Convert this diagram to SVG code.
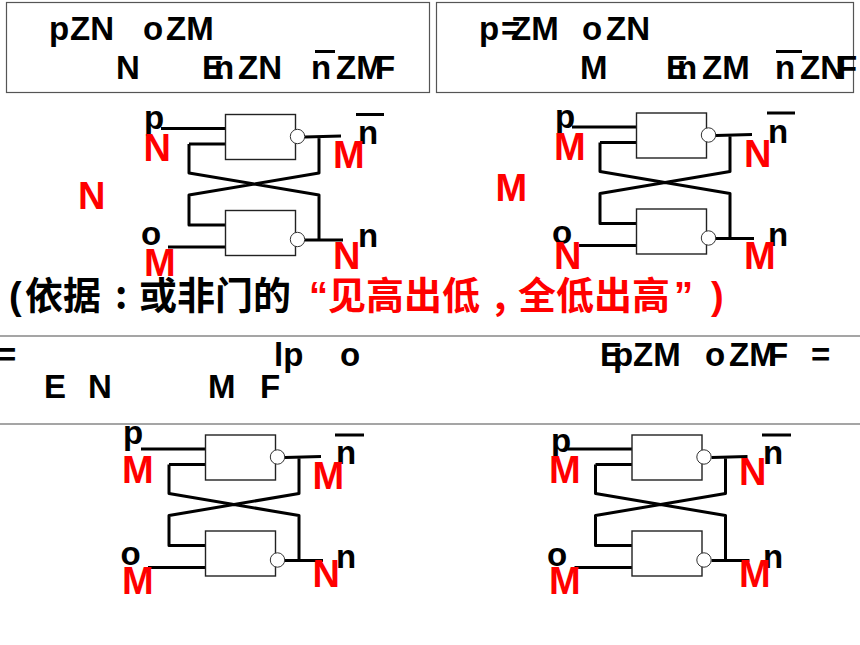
<svg xmlns="http://www.w3.org/2000/svg" xmlns:xlink="http://www.w3.org/1999/xlink" width="860" height="645" viewBox="0 0 860 645">
<style>
text{font-family:"Liberation Sans","Noto Sans CJK SC",sans-serif;font-weight:700}
.k{font-size:33px;fill:#000}
.r{font-size:38px;fill:#f00}
.cn{font-size:38px}
.pt{font-family:"Noto Sans CJK TC",sans-serif}
.box{fill:#fff;stroke:#555;stroke-width:1.2}
.sep{stroke:#888;stroke-width:1.6;fill:none}
.bar{stroke:#000;stroke-width:3;fill:none}
.gate rect{fill:#fff;stroke:#222;stroke-width:1.4}
.gate circle{fill:#fff;stroke:#333;stroke-width:1}
.wire{fill:none;stroke:#000;stroke-width:3;stroke-linejoin:round}
</style>
<defs>
<g id="gateTop" class="gate"><rect x="225.5" y="114.5" width="70" height="45"/><circle cx="297.5" cy="136.5" r="7.2"/></g>
<g id="gateBottom" class="gate"><rect x="225.5" y="210.5" width="70" height="45"/><circle cx="297.5" cy="239.5" r="7.2"/></g>
<path id="wires" d="M161 128.5H227M189 144H227M189 144V173L319 195V240M305 137L341 136M319 137V173L189 195V225H227M168 247H227M305 240H343"/>
</defs>
<rect class="box" x="6.5" y="2.5" width="423" height="90"/>
<rect class="box" x="436.5" y="2.5" width="417" height="90"/>
<path class="sep" d="M0 336H860M0 424H860"/>
<g id="connectors" class="wire">
<use xlink:href="#wires"/>
<use xlink:href="#wires" transform="translate(411 -1.5)"/>
<use xlink:href="#wires" transform="translate(-20 320.5)"/>
<use xlink:href="#wires" transform="translate(406.5 320.5)"/>
</g>
<g id="gate-a1"><use xlink:href="#gateTop"/></g>
<g id="gate-a2"><use xlink:href="#gateBottom"/></g>
<g id="gate-b1"><use xlink:href="#gateTop" transform="translate(411 -1.5)"/></g>
<g id="gate-b2"><use xlink:href="#gateBottom" transform="translate(411 -1.5)"/></g>
<g id="gate-c1"><use xlink:href="#gateTop" transform="translate(-20 320.5)"/></g>
<g id="gate-c2"><use xlink:href="#gateBottom" transform="translate(-20 320.5)"/></g>
<g id="gate-d1"><use xlink:href="#gateTop" transform="translate(406.5 320.5)"/></g>
<g id="gate-d2"><use xlink:href="#gateBottom" transform="translate(406.5 320.5)"/></g>
<g id="heading-a">
<text class="k" y="39.5"><tspan x="49">p</tspan><tspan x="70">ZN</tspan><tspan x="143">o</tspan><tspan x="166">ZM</tspan></text>
<text class="k" y="79"><tspan x="116">N</tspan><tspan x="202">E</tspan><tspan x="214">n</tspan><tspan x="238">ZN</tspan><tspan x="311">n</tspan><tspan x="336">ZM</tspan><tspan x="375">F</tspan></text>
<path class="bar" d="M315 51.5H335"/>
</g>
<g id="heading-b">
<text class="k" y="39.5"><tspan x="479">p</tspan><tspan x="501">=</tspan><tspan x="511">ZM</tspan><tspan x="582">o</tspan><tspan x="606">ZN</tspan></text>
<text class="k" y="79"><tspan x="580">M</tspan><tspan x="666">E</tspan><tspan x="677">n</tspan><tspan x="702">ZM</tspan><tspan x="775">n</tspan><tspan x="800">ZN</tspan><tspan x="837">F</tspan></text>
<path class="bar" d="M776 51.5H802"/>
</g>
<g id="heading-c">
<text class="k" y="365.5"><tspan x="-3">=</tspan><tspan x="274">lp</tspan><tspan x="340">o</tspan></text>
<text class="k" y="397.5"><tspan x="44">E</tspan><tspan x="88">N</tspan><tspan x="208">M</tspan><tspan x="260">F</tspan></text>
</g>
<g id="heading-d">
<text class="k" y="365.5"><tspan x="600">E</tspan><tspan x="613">p</tspan><tspan x="633">ZM</tspan><tspan x="705">o</tspan><tspan x="729">ZM</tspan><tspan x="768">F</tspan><tspan x="811">=</tspan></text>
</g>
<g id="labels-black">
<g transform="translate(0 0.6)">
<text class="k" x="144" y="128">p</text><text class="k" x="358" y="143">n</text><text class="k" x="141" y="244">o</text><text class="k" x="358" y="246">n</text>
<text class="k" x="555" y="127">p</text><text class="k" x="768" y="142">n</text><text class="k" x="552" y="243">o</text><text class="k" x="768" y="245">n</text>
<text class="k" x="123" y="443">p</text><text class="k" x="336" y="463">n</text><text class="k" x="120.5" y="564">o</text><text class="k" x="336" y="567">n</text>
<text class="k" x="551" y="451">p</text><text class="k" x="763" y="463">n</text><text class="k" x="547" y="565">o</text><text class="k" x="763" y="567">n</text>
</g>
<path class="bar" d="M356 114.5H384M767 113H795M335 435H364M762 435H791"/>
</g>
<g id="labels-red" transform="translate(0.5 1)">
<text class="r" x="143" y="160">N</text><text class="r" x="332.5" y="167">M</text><text class="r" x="77.5" y="208">N</text><text class="r" x="143.5" y="275">M</text><text class="r" x="332.5" y="268">N</text>
<text class="r" x="553.5" y="159">M</text><text class="r" x="743.5" y="166">N</text><text class="r" x="495" y="200">M</text><text class="r" x="553.5" y="268">N</text><text class="r" x="743.5" y="268">M</text>
<text class="r" x="121.5" y="482">M</text><text class="r" x="312" y="488">M</text><text class="r" x="121.5" y="593">M</text><text class="r" x="312" y="586">N</text>
<text class="r" x="548.5" y="482">M</text><text class="r" x="738.5" y="484">N</text><text class="r" x="548.5" y="593">M</text><text class="r" x="738.5" y="586">M</text>
</g>
<g id="note">
<text class="cn" y="309" fill="#000"><tspan x="9">(</tspan><tspan x="25">依据</tspan><tspan x="115" class="pt">:</tspan><tspan x="139">或非门的</tspan></text>
<text class="cn" y="309" fill="#f00"><tspan x="309">“</tspan><tspan x="328">见高出低</tspan><tspan x="494" class="pt">,</tspan><tspan x="518">全低出高</tspan><tspan x="674">”</tspan><tspan x="711">)</tspan></text>
</g>
</svg>
